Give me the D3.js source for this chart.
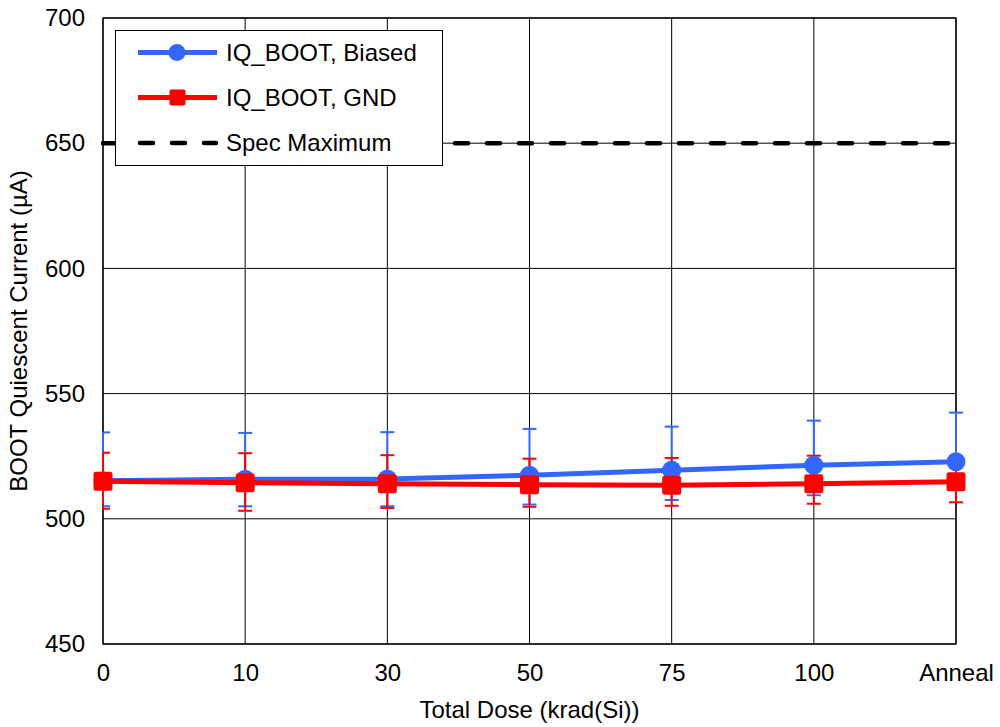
<!DOCTYPE html>
<html><head><meta charset="utf-8">
<script src="https://cdn.jsdelivr.net/npm/d3@7"></script>
<style>body{margin:0;background:#fff}svg{display:block;font-family:"Liberation Sans",Arial,sans-serif}</style>
</head><body><div id="chart"></div>
<script>
const categories = ["0","10","30","50","75","100","Anneal"];
const biasedMean = [515.2, 515.8, 515.9, 517.4, 519.4, 521.4, 522.8];
const biasedHigh = [534.5, 534.3, 534.6, 535.9, 536.8, 539.2, 542.4];
const biasedLow  = [505.0, 505.0, 505.0, 505.7, 507.5, 509.4, 512.0];
const gndMean = [515.0, 514.4, 514.0, 513.6, 513.4, 514.0, 514.8];
const gndHigh = [526.4, 526.2, 525.4, 524.0, 524.3, 525.2, 523.5];
const gndLow  = [504.0, 503.2, 504.3, 504.8, 505.2, 506.0, 506.6];
const specMax = 650;
const yTicks = [450, 500, 550, 600, 650, 700];
const legendLabels = ["IQ_BOOT, Biased", "IQ_BOOT, GND", "Spec Maximum"];

const W = 1000, H = 727;
const FS = 24;
const m = {left: 103, right: 44, top: 18, bottom: 83};
const svg = d3.select("#chart").append("svg").attr("width", W).attr("height", H);
const x = d3.scalePoint().domain(categories).range([m.left, W - m.right]).padding(0);
const y = d3.scaleLinear().domain([450, 700]).range([H - m.bottom, m.top]);
const blue = "#3366ff", red = "#ff0000";

// grid
const g = svg.append("g");
g.selectAll(".hg").data(yTicks).join("line")
  .attr("x1", m.left).attr("x2", W - m.right)
  .attr("y1", d => y(d)).attr("y2", d => y(d))
  .attr("stroke", "#000").attr("stroke-width", 1);
g.selectAll(".vg").data(categories).join("line")
  .attr("x1", d => x(d)).attr("x2", d => x(d))
  .attr("y1", m.top).attr("y2", H - m.bottom)
  .attr("stroke", "#000").attr("stroke-width", 1);
svg.append("rect").attr("x", m.left).attr("y", m.top)
  .attr("width", W - m.right - m.left).attr("height", H - m.bottom - m.top)
  .attr("fill", "none").attr("stroke", "#000").attr("stroke-width", 1.3);

// axes
const yAxis = d3.axisLeft(y).tickValues(yTicks).tickSize(0).tickPadding(18);
const ya = svg.append("g").attr("transform", `translate(${m.left},0)`).call(yAxis);
ya.select(".domain").remove();
ya.selectAll("text").attr("font-size", FS).attr("fill", "#000").attr("font-family", "Liberation Sans, Arial, sans-serif");
const xAxis = d3.axisBottom(x).tickSize(0).tickPadding(20);
const xa = svg.append("g").attr("transform", `translate(0,${H - m.bottom})`).call(xAxis);
xa.select(".domain").remove();
xa.selectAll("text").attr("font-size", FS).attr("fill", "#000").attr("font-family", "Liberation Sans, Arial, sans-serif");

svg.append("text").attr("x", (m.left + W - m.right) / 2).attr("y", 718)
  .attr("text-anchor", "middle").attr("font-size", FS).text("Total Dose (krad(Si))");
svg.append("text").attr("transform", `translate(27,${(m.top + H - m.bottom) / 2}) rotate(-90)`)
  .attr("text-anchor", "middle").attr("font-size", FS).text("BOOT Quiescent Current (µA)");

// spec line
svg.append("line").attr("x1", m.left).attr("x2", W - m.right)
  .attr("y1", y(specMax)).attr("y2", y(specMax))
  .attr("stroke", "#000").attr("stroke-width", 4.5).attr("stroke-dasharray", "13,19")
  .attr("stroke-linecap", "round");

// error bars
function errBars(hi, lo, color) {
  const eg = svg.append("g").attr("stroke", color).attr("stroke-width", 2);
  categories.forEach((c, i) => {
    const cx = x(c);
    eg.append("line").attr("x1", cx).attr("x2", cx).attr("y1", y(hi[i])).attr("y2", y(lo[i]));
    eg.append("line").attr("x1", Math.max(cx - 7, m.left)).attr("x2", cx + 7).attr("y1", y(hi[i])).attr("y2", y(hi[i]));
    eg.append("line").attr("x1", Math.max(cx - 7, m.left)).attr("x2", cx + 7).attr("y1", y(lo[i])).attr("y2", y(lo[i]));
  });
}
errBars(biasedHigh, biasedLow, blue);
errBars(gndHigh, gndLow, red);

const line = d3.line().x((d, i) => x(categories[i])).y(d => y(d));
svg.append("path").datum(biasedMean).attr("d", line).attr("fill", "none")
  .attr("stroke", blue).attr("stroke-width", 5);
svg.selectAll(".bc").data(biasedMean).join("circle")
  .attr("cx", (d, i) => x(categories[i])).attr("cy", d => y(d)).attr("r", 9.5).attr("fill", blue);
svg.append("path").datum(gndMean).attr("d", line).attr("fill", "none")
  .attr("stroke", red).attr("stroke-width", 5);
svg.selectAll(".rs").data(gndMean).join("rect")
  .attr("x", (d, i) => x(categories[i]) - 9.5).attr("y", d => y(d) - 9.5)
  .attr("width", 19).attr("height", 19).attr("rx", 2.5).attr("fill", red);

// legend
const lg = svg.append("g");
lg.append("rect").attr("x", 115.5).attr("y", 30.5).attr("width", 327).attr("height", 135)
  .attr("fill", "#fff").attr("stroke", "#000").attr("stroke-width", 1);
const rows = [52.5, 97.5, 143];
lg.append("line").attr("x1", 138).attr("x2", 217).attr("y1", rows[0]).attr("y2", rows[0]).attr("stroke", blue).attr("stroke-width", 5);
lg.append("circle").attr("cx", 177).attr("cy", rows[0]).attr("r", 8.5).attr("fill", blue);
lg.append("line").attr("x1", 138).attr("x2", 217).attr("y1", rows[1]).attr("y2", rows[1]).attr("stroke", red).attr("stroke-width", 5);
lg.append("rect").attr("x", 169.5).attr("y", rows[1] - 8).attr("width", 16).attr("height", 16).attr("rx", 2).attr("fill", red);
lg.append("line").attr("x1", 140).attr("x2", 216).attr("y1", rows[2]).attr("y2", rows[2]).attr("stroke", "#000")
  .attr("stroke-width", 4.5).attr("stroke-dasharray", "13,19").attr("stroke-linecap", "round");
lg.selectAll(".lt").data(legendLabels).join("text")
  .attr("x", 226).attr("y", (d, i) => rows[i]).attr("dy", "0.35em")
  .attr("font-size", FS).text(d => d);
</script></body></html>
